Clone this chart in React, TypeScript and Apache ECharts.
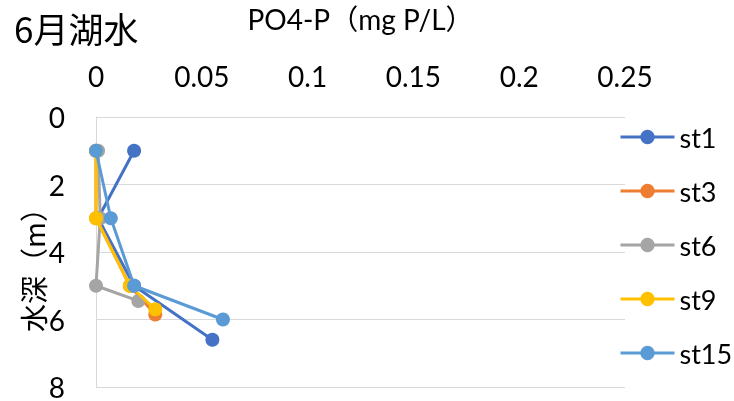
import React, { useEffect, useRef } from "react";
import * as echarts from "echarts";

// Station names and line colours
const stations = ["st1", "st3", "st6", "st9", "st15"];
const colors = ["#4472C4", "#ED7D31", "#A5A5A5", "#FFC000", "#5B9BD5"];

// PO4-P concentration (mg P/L) per station, by sampling depth
const st1Po4 = [0.018, 0.001, 0.018, 0.055];
const st1Depth = [1, 3, 5, 6.6];
const st3Po4 = [0, 0, 0.016, 0.028];
const st3Depth = [1, 3, 5, 5.85];
const st6Po4 = [0.001, 0.002, 0, 0.02];
const st6Depth = [1, 3, 5, 5.45];
const st9Po4 = [0, 0, 0.016, 0.028];
const st9Depth = [1, 3, 5, 5.7];
const st15Po4 = [0, 0.007, 0.018, 0.06];
const st15Depth = [1, 3, 5, 6];

const po4Values = [st1Po4, st3Po4, st6Po4, st9Po4, st15Po4];
const depthValues = [st1Depth, st3Depth, st6Depth, st9Depth, st15Depth];

const latin = "Lato, 'Noto Sans CJK JP', sans-serif";
const cjk = "'Noto Sans CJK JP', Lato, sans-serif";

export default function App() {
  const ref = useRef<HTMLDivElement>(null);

  useEffect(() => {
    if (!ref.current) return;
    const chart = echarts.init(ref.current, null, { renderer: "svg" });

    const series = stations.map((name, i) => ({
      name,
      type: "line",
      data: po4Values[i].map((v, k) => [v, depthValues[i][k]]),
      symbol: "circle",
      symbolSize: 14,
      color: colors[i],
      lineStyle: { width: 3, color: colors[i] },
      itemStyle: { color: colors[i] },
      z: 2 + i,
    }));

    chart.setOption({
      animation: false,
      title: {
        text: "6月湖水",
        left: 9,
        top: 5,
        textStyle: {
          fontFamily: cjk,
          fontSize: 35,
          fontWeight: "normal",
          color: "#000",
        },
      },
      grid: {
        left: 96,
        top: 117,
        width: 529,
        height: 270,
        outerBoundsMode: "none",
      },
      legend: {
        orient: "vertical",
        left: 619,
        top: 123,
        padding: 0,
        itemWidth: 54,
        itemHeight: 18,
        itemGap: 26,
        lineStyle: { width: 3 },
        textStyle: {
          fontFamily: latin,
          fontSize: 27,
          lineHeight: 28,
          color: "#000",
        },
        data: stations,
      },
      xAxis: {
        type: "value",
        position: "top",
        min: 0,
        max: 0.25,
        interval: 0.05,
        name: "PO4-P（mg P/L）",
        nameLocation: "middle",
        nameGap: 84,
        nameTextStyle: { fontFamily: latin, fontSize: 28, color: "#000" },
        axisLine: { show: false },
        axisTick: { show: false },
        splitLine: { show: false },
        axisLabel: {
          fontFamily: latin,
          fontSize: 28,
          color: "#000",
          margin: 27,
        },
      },
      yAxis: {
        type: "value",
        inverse: true,
        min: 0,
        max: 8,
        interval: 2,
        axisLine: { show: true, lineStyle: { color: "#D9D9D9", width: 1 } },
        axisTick: { show: false },
        splitLine: { show: true, lineStyle: { color: "#D9D9D9", width: 1 } },
        axisLabel: {
          fontFamily: latin,
          fontSize: 28,
          color: "#000",
          margin: 31,
        },
      },
      graphic: [
        {
          type: "text",
          x: 33,
          y: 263,
          rotation: Math.PI / 2,
          style: {
            text: "水深（m）",
            fontFamily: cjk,
            fontSize: 28,
            fill: "#000",
            align: "center",
            verticalAlign: "middle",
          },
        },
      ],
      series,
    });

    return () => chart.dispose();
  }, []);

  return (
    <div
      ref={ref}
      style={{ position: "fixed", left: 0, top: 0, width: 734, height: 401 }}
    />
  );
}
